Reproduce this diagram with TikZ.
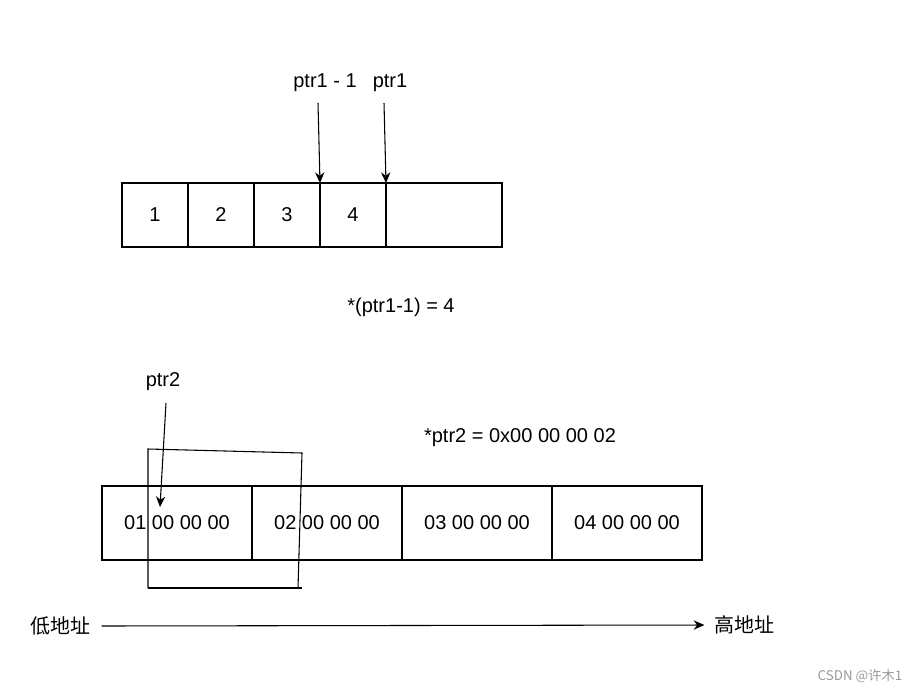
\documentclass[tikz,border=0pt]{standalone}
\usepackage{fontspec}
\setmainfont{Liberation Sans}
\newfontfamily\cjk{Noto Sans CJK SC}
\usepackage{tikz}
\usetikzlibrary{arrows.meta, positioning, calc}

\begin{document}
\begin{tikzpicture}[x=0.75pt,y=-0.75pt,>={Stealth[length=8pt,width=7pt]},
  cell/.style={draw,line width=0.8pt,inner sep=0pt,outer sep=0pt,font=\fontsize{15}{18}\selectfont},
  small/.style={cell,minimum width=49.5pt,minimum height=48pt},
  wide/.style={cell,minimum width=112.5pt,minimum height=55.5pt},
  lbl/.style={inner sep=1pt,font=\fontsize{15}{18}\selectfont},
  ptr/.style={->,line width=0.8pt}]
  \useasboundingbox (0,0) rectangle (914,692);
  % first array
  \node[small] (c1) at (155,215) {1};
  \node[small,right=0pt of c1] (c2) {2};
  \node[small,right=0pt of c2] (c3) {3};
  \node[small,right=0pt of c3] (c4) {4};
  \node[small,minimum width=87pt,right=0pt of c4] (c5) {};
  \draw[line width=1.2pt] (c1.north west) -- (c5.north west);
  \node[lbl] (p1m) at (325,83) {ptr1 - 1};
  \node[lbl] (p1) at (390,83) {ptr1};
  \draw[ptr] (318,103) -- (c4.north west);
  \draw[ptr] (384,103) -- (c5.north west);
  \node[lbl] (deref1) at (401,307) {*(ptr1-1) = 4};
  % second array
  \node[wide] (b1) at (177,523) {01 00 00 00};
  \node[wide,right=0pt of b1] (b2) {02 00 00 00};
  \node[wide,right=0pt of b2] (b3) {03 00 00 00};
  \node[wide,right=0pt of b3] (b4) {04 00 00 00};
  % int window read through ptr2
  \coordinate (w1) at (148,449);
  \coordinate (w2) at (302,453);
  \coordinate (w3) at (298,588);
  \coordinate (w4) at (148,588);
  \draw[line width=0.8pt] (w4) -- (w1) -- (w2) -- (w3);
  \draw[line width=0.8pt] (w4) -- (302,588);
  \node[lbl] (p2) at (163,382) {ptr2};
  \coordinate (p2end) at (160,507);
  \draw[ptr] (166,403) -- (p2end);
  \node[lbl] (deref2) at (520,438) {*ptr2 = 0x00 00 00 02};
  % address direction
  \node[lbl,font=\cjk\fontsize{15}{18}\selectfont] (low) at (61,626) {低地址};
  \node[lbl,font=\cjk\fontsize{15}{18}\selectfont] (high) at (744,625) {高地址};
  \draw[ptr,shorten >=6pt] (low.east) ++(9,0) -- (high.west);
  \node[lbl,text=black!40,font=\cjk\fontsize{10}{12}\selectfont] (mark) at (860,676) {CSDN @许木1};
\end{tikzpicture}
\end{document}
